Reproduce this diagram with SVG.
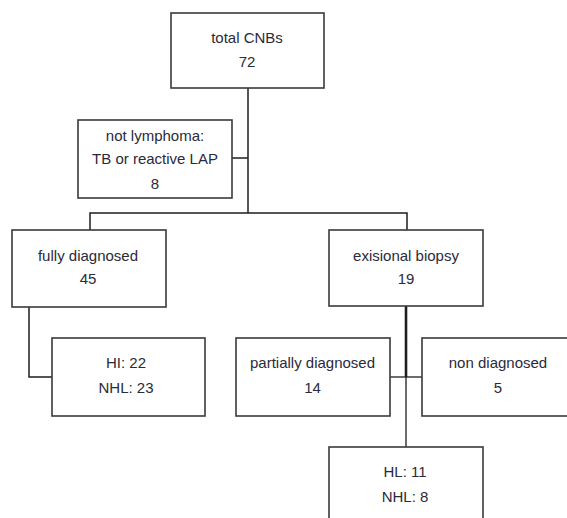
<svg xmlns="http://www.w3.org/2000/svg" width="567" height="518" viewBox="0 0 567 518">
<style>
.box{fill:#fff;stroke:#3a3a3a;stroke-width:1.6}
.t{font-family:"Liberation Sans",Arial,sans-serif;font-size:15px;fill:#2a2a3a;text-anchor:middle}
.c{fill:none;stroke:#1e1e1e;stroke-width:1.5}
</style>
<rect width="567" height="518" fill="#fff"/>
<g id="connectors">
<path class="c" d="M248,88 V213"/>
<path class="c" d="M232,158 H248"/>
<path class="c" d="M90,230 V213 H407 V230"/>
<path class="c" d="M29,307 V377 H52"/>
<path class="c" d="M406,306 V377" style="stroke-width:2.6"/>
<path class="c" d="M406,377 V447" style="stroke-width:1.3"/>
<path class="c" d="M390,377 H422" style="stroke-width:1.3"/>
</g>
<g id="total">
<rect class="box" x="171" y="13" width="153" height="75"/>
<text class="t" x="247" y="43">total CNBs</text>
<text class="t" x="247" y="67">72</text>
</g>
<g id="notlymphoma">
<rect class="box" x="78" y="120" width="154" height="78"/>
<text class="t" x="155" y="141">not lymphoma:</text>
<text class="t" x="155" y="164">TB or reactive LAP</text>
<text class="t" x="155" y="189">8</text>
</g>
<g id="fully">
<rect class="box" x="12" y="230" width="154" height="77"/>
<text class="t" x="88" y="261">fully diagnosed</text>
<text class="t" x="88" y="284">45</text>
</g>
<g id="exisional">
<rect class="box" x="329" y="230" width="154" height="76"/>
<text class="t" x="406" y="261">exisional biopsy</text>
<text class="t" x="406" y="284">19</text>
</g>
<g id="hi">
<rect class="box" x="52" y="338" width="153" height="78"/>
<text class="t" x="126" y="368">HI: 22</text>
<text class="t" x="126" y="393">NHL: 23</text>
</g>
<g id="partially">
<rect class="box" x="236" y="338" width="154" height="78"/>
<text class="t" x="312.5" y="368">partially diagnosed</text>
<text class="t" x="312.5" y="393">14</text>
</g>
<g id="non">
<rect class="box" x="422" y="338" width="154" height="78"/>
<text class="t" x="498" y="368">non diagnosed</text>
<text class="t" x="498" y="393">5</text>
</g>
<g id="hl">
<rect class="box" x="329" y="447" width="154" height="80"/>
<text class="t" x="405" y="477">HL: 11</text>
<text class="t" x="405" y="502">NHL: 8</text>
</g>
</svg>
